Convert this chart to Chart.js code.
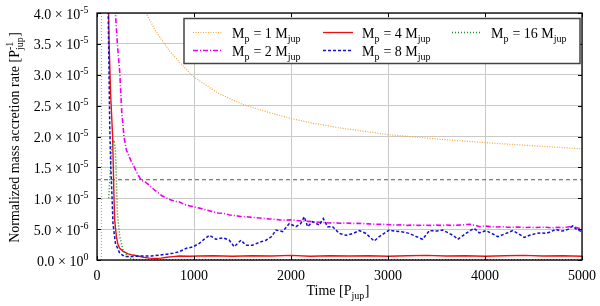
<!DOCTYPE html>
<html>
<head>
<meta charset="utf-8">
<script src="https://cdn.jsdelivr.net/npm/chart.js@4.4.0/dist/chart.umd.min.js"></script>
<style>
  html, body { margin: 0; padding: 0; background: #fff; }
  #wrap { width: 600px; height: 306px; position: relative; }
</style>
</head>
<body>
<div id="wrap"><canvas id="rateChart"></canvas></div>
<script>
// values in units of 1e-6 P_jup^-1, time in P_jup
const tMp1 = [400, 460, 505, 600, 750, 900, 1000, 1250, 1500, 1750, 2000, 2250, 2500, 3000, 3500, 4000, 4500, 5000];
const mp1 = [48, 43, 40, 37.2, 33.8, 31.2, 29.6, 27.0, 25.2, 24.0, 22.9, 22.1, 21.4, 20.3, 19.6, 19.0, 18.5, 18.0];

const tMp2 = [185, 190, 210, 234, 255, 278, 303, 330, 355, 380, 406, 430, 458, 490, 526, 560, 595, 630, 670, 710,
  750, 800, 851, 900, 950, 1000, 1057, 1100, 1150, 1195, 1250, 1300, 1368, 1420, 1480, 1540, 1600, 1650, 1711, 1780,
  1830, 1883, 1950, 2000, 2054, 2120, 2180, 2227, 2300, 2350, 2399, 2450, 2500, 2570, 2640, 2700, 2742, 2800, 2860, 2914,
  2980, 3040, 3085, 3150, 3200, 3258, 3320, 3380, 3440, 3500, 3560, 3602, 3660, 3720, 3780, 3842, 3900, 3945, 4000, 4060,
  4120, 4180, 4230, 4288, 4350, 4400, 4460, 4520, 4580, 4632, 4690, 4740, 4800, 4850, 4907, 4950, 5000];
const mp2 = [44, 40, 35, 30.5, 24, 20, 17.8, 16.8, 15.9, 15.2, 14.3, 13.6, 12.9, 12.7, 12.3, 11.8, 11.3, 10.9, 10.4, 10.1,
  9.8, 9.5, 9.4, 9.0, 8.8, 8.6, 8.4, 8.2, 8.0, 7.8, 7.6, 7.55, 7.3, 7.2, 7.05, 7.0, 6.9, 6.85, 6.75, 6.65,
  6.6, 6.5, 6.45, 6.5, 6.4, 6.3, 6.25, 6.2, 6.1, 6.05, 6.0, 6.05, 5.95, 6.0, 5.9, 5.95, 5.9, 5.85, 5.8, 5.8,
  5.75, 5.7, 5.66, 5.7, 5.6, 5.66, 5.6, 5.65, 5.6, 5.65, 5.6, 5.66, 5.6, 5.65, 5.7, 5.8, 5.6, 5.4, 5.5, 5.4,
  5.35, 5.4, 5.3, 5.3, 5.35, 5.25, 5.3, 5.25, 5.3, 5.3, 5.2, 5.3, 5.25, 5.35, 5.5, 5.2, 5.05];

const tMp4 = [100, 115, 125, 140, 161, 175, 182, 200, 215, 234, 270, 320, 370, 423, 480, 540, 600, 660, 720, 780,
  850, 950, 1050, 1200, 1400, 1600, 1800, 2000, 2200, 2400, 2600, 2800, 3000, 3200, 3400, 3600, 3800, 4000, 4200, 4400,
  4600, 4800, 5000];
const mp4 = [60, 45, 35, 27, 20, 10.2, 6.5, 3.8, 2.6, 1.9, 1.4, 1.0, 0.8, 0.65, 0.45, 0.3, 0.25, 0.3, 0.45, 0.55,
  0.65, 0.6, 0.65, 0.7, 0.6, 0.7, 0.65, 0.75, 0.6, 0.7, 0.65, 0.7, 0.6, 0.7, 0.75, 0.65, 0.7, 0.6, 0.7, 0.75,
  0.65, 0.7, 0.6];

const tMp8 = [105, 110, 120, 131, 141, 155, 165, 190, 234, 286, 355, 458, 560, 650, 720, 784, 848, 921, 986, 1055,
  1100, 1158, 1227, 1300, 1364, 1415, 1484, 1535, 1604, 1680, 1742, 1800, 1845, 1914, 1982, 2051, 2100, 2137, 2171, 2223,
  2292, 2333, 2377, 2429, 2498, 2567, 2640, 2704, 2773, 2820, 2859, 2910, 2960, 3013, 3060, 3116, 3170, 3220, 3290, 3357,
  3426, 3500, 3564, 3632, 3680, 3718, 3760, 3804, 3850, 3890, 3942, 4011, 4070, 4131, 4200, 4285, 4340, 4405, 4460, 4526,
  4580, 4629, 4680, 4732, 4780, 4818, 4860, 4904, 4940, 4973, 5000];
const mp8 = [50, 45, 35, 22, 15.6, 10.2, 5.9, 2.7, 1.1, 0.55, 0.55, 0.65, 0.65, 0.8, 0.95, 1.1, 1.35, 1.9, 2.1, 2.7,
  3.3, 4.0, 3.35, 3.6, 3.2, 2.15, 3.2, 2.4, 2.4, 2.9, 3.2, 3.8, 4.85, 4.6, 5.9, 5.4, 5.9, 7.0, 5.4, 6.2,
  5.66, 6.7, 5.4, 5.4, 4.3, 4.0, 4.3, 4.75, 4.3, 3.6, 3.07, 3.8, 4.3, 4.85, 4.7, 4.6, 4.5, 4.3, 3.8, 3.35,
  4.75, 4.7, 4.85, 4.3, 3.9, 3.35, 3.8, 4.3, 4.8, 5.1, 4.4, 4.75, 4.3, 3.77, 4.2, 4.75, 4.3, 3.65, 4.0, 4.3,
  4.4, 4.3, 4.6, 4.97, 4.7, 4.75, 5.0, 5.5, 5.0, 4.75, 4.6];

const tMp16 = [120, 140, 155, 175, 190, 200, 210, 234, 268, 320, 360, 400, 600, 1000, 2000, 3000, 4000, 5000];
const mp16 = [10, 15, 18.6, 19.4, 17.8, 12.9, 7.55, 3.8, 1.6, 0.55, 0.15, 0.05, 0.05, 0.05, 0.05, 0.05, 0.05, 0.05];

// reference markers
const refLevel = 13;   // horizontal dashed line
const refTime = 45;    // vertical dotted line

const xTicks = [0, 1000, 2000, 3000, 4000, 5000];
const yTicks = [0, 5, 10, 15, 20, 25, 30, 35, 40];

const FONT = '"Liberation Serif", "DejaVu Serif", "Times New Roman", serif';

function pts(ts, vs) {
  return ts.map((t, i) => ({ x: t, y: vs[i] }));
}

function richWidth(ctx, parts, size) {
  let w = 0;
  parts.forEach(p => {
    if (p.n !== undefined) {
      ctx.font = size + 'px ' + FONT;
      w += ctx.measureText(p.n).width;
    } else {
      ctx.font = Math.round(size * 0.72) + 'px ' + FONT;
      const a = p.sup ? ctx.measureText(p.sup).width : 0;
      const b = p.sub ? ctx.measureText(p.sub).width : 0;
      w += Math.max(a, b) + 0.5;
    }
  });
  return w;
}

function drawRich(ctx, parts, x, y, size, align) {
  const w = richWidth(ctx, parts, size);
  let cx = x;
  if (align === 'center') cx = x - w / 2;
  if (align === 'right') cx = x - w;
  ctx.textAlign = 'left';
  ctx.textBaseline = 'alphabetic';
  parts.forEach(p => {
    if (p.n !== undefined) {
      ctx.font = size + 'px ' + FONT;
      ctx.fillText(p.n, cx, y);
      cx += ctx.measureText(p.n).width;
    } else {
      ctx.font = Math.round(size * 0.72) + 'px ' + FONT;
      let a = 0, b = 0;
      if (p.sup) { ctx.fillText(p.sup, cx, y - size * 0.42); a = ctx.measureText(p.sup).width; }
      if (p.sub) { ctx.fillText(p.sub, cx, y + size * 0.3); b = ctx.measureText(p.sub).width; }
      cx += Math.max(a, b) + 0.5;
    }
  });
}

function yLabel(v) {
  if (v === 0) return [{ n: '0.0 \u00d7 10' }, { sup: '0' }];
  const real = v * 1e-6;
  const e = Math.floor(Math.log10(real) + 1e-9);
  const m = real / Math.pow(10, e);
  return [{ n: m.toFixed(1) + ' \u00d7 10' }, { sup: '-' + Math.abs(e) }];
}

const series = [
  { label: '1', color: '#f7a33c', dash: [1, 1.5], width: 1.2 },
  { label: '2', color: '#ee00ee', dash: [5, 2, 1, 2], width: 1.6 },
  { label: '4', color: '#ee1111', dash: [], width: 1.4 },
  { label: '8', color: '#1010d0', dash: [3, 2], width: 1.5 },
  { label: '16', color: '#1a8c1a', dash: [1, 2], width: 1.5 }
];

const legendPos = [
  { x: 193, y: 32.5 }, { x: 193, y: 50.5 },
  { x: 323, y: 32.5 }, { x: 323, y: 50.5 },
  { x: 452, y: 32.5 }
];

const framePlugin = {
  id: 'frame',
  afterDraw(chart) {
    const ctx = chart.ctx;
    const a = chart.chartArea;
    const xs = chart.scales.x, ys = chart.scales.y;
    ctx.save();
    // inward ticks
    ctx.strokeStyle = '#000';
    ctx.lineWidth = 1;
    ctx.beginPath();
    xTicks.forEach(t => {
      const px = Math.round(xs.getPixelForValue(t)) + 0.5;
      ctx.moveTo(px, a.bottom); ctx.lineTo(px, a.bottom - 4);
      ctx.moveTo(px, a.top); ctx.lineTo(px, a.top + 4);
    });
    yTicks.forEach(v => {
      const py = Math.round(ys.getPixelForValue(v)) + 0.5;
      ctx.moveTo(a.left, py); ctx.lineTo(a.left + 4, py);
      ctx.moveTo(a.right, py); ctx.lineTo(a.right - 4, py);
    });
    ctx.stroke();
    ctx.lineWidth = 1.3;
    ctx.strokeRect(a.left, a.top, a.right - a.left, a.bottom - a.top);

    // legend
    ctx.fillStyle = '#fff';
    ctx.fillRect(184, 18.5, 396, 45);
    ctx.strokeStyle = '#444';
    ctx.lineWidth = 1.5;
    ctx.strokeRect(184, 18.5, 396, 45);
    ctx.fillStyle = '#000';
    series.forEach((s, i) => {
      const p = legendPos[i];
      ctx.strokeStyle = s.color;
      ctx.lineWidth = Math.min(s.width, 1.3);
      ctx.setLineDash(s.dash);
      ctx.beginPath();
      ctx.moveTo(p.x, p.y); ctx.lineTo(p.x + 30, p.y);
      ctx.stroke();
      ctx.setLineDash([]);
      drawRich(ctx, [{ n: 'M' }, { sub: 'p' }, { n: ' = ' + s.label + ' M' }, { sub: 'jup' }], p.x + 39, p.y + 5, 14, 'left');
    });

    // tick labels
    ctx.fillStyle = '#000';
    xTicks.forEach(t => {
      drawRich(ctx, [{ n: String(t) }], xs.getPixelForValue(t), 279.5, 14, 'center');
    });
    yTicks.forEach(v => {
      drawRich(ctx, yLabel(v), 89, ys.getPixelForValue(v) + 5.5, 14, 'right');
    });

    // axis titles
    drawRich(ctx, [{ n: 'Time [P' }, { sub: 'jup' }, { n: ']' }], 338, 295, 14, 'center');
    ctx.translate(19, 137.5);
    ctx.rotate(-Math.PI / 2);
    drawRich(ctx, [{ n: 'Normalized mass accretion rate [P' }, { sup: '-1', sub: 'jup' }, { n: ']' }], 0, 0, 14, 'center');
    ctx.restore();
  }
};

const datasets = [
  { data: pts([0, 5000], [refLevel, refLevel]), borderColor: '#555', borderWidth: 1, borderDash: [4, 3], order: 6 },
  { data: pts([refTime, refTime], [0, 40]), borderColor: '#999', borderWidth: 1, borderDash: [1, 2], order: 7 },
  { data: pts(tMp1, mp1), order: 5 },
  { data: pts(tMp2, mp2), order: 4 },
  { data: pts(tMp4, mp4), order: 3 },
  { data: pts(tMp8, mp8), order: 1 },
  { data: pts(tMp16, mp16), order: 2 }
];
series.forEach((s, i) => {
  Object.assign(datasets[i + 2], { borderColor: s.color, borderWidth: s.width, borderDash: s.dash });
});
datasets.forEach(d => {
  d.pointRadius = 0;
  d.fill = false;
  d.tension = 0;
});

new Chart(document.getElementById('rateChart').getContext('2d'), {
  type: 'line',
  data: { datasets: datasets },
  options: {
    responsive: true,
    maintainAspectRatio: false,
    animation: false,
    layout: { padding: { left: 97, right: 18, top: 13, bottom: 46 } },
    plugins: { legend: { display: false }, tooltip: { enabled: false } },
    scales: {
      x: {
        type: 'linear', min: 0, max: 5000,
        ticks: { display: false, stepSize: 1000 },
        grid: { color: '#c9c9c9', drawTicks: false },
        border: { display: false }
      },
      y: {
        type: 'linear', min: 0, max: 40,
        ticks: { display: false, stepSize: 5 },
        grid: { color: '#c9c9c9', drawTicks: false },
        border: { display: false }
      }
    }
  },
  plugins: [framePlugin]
});
</script>
</body>
</html>
